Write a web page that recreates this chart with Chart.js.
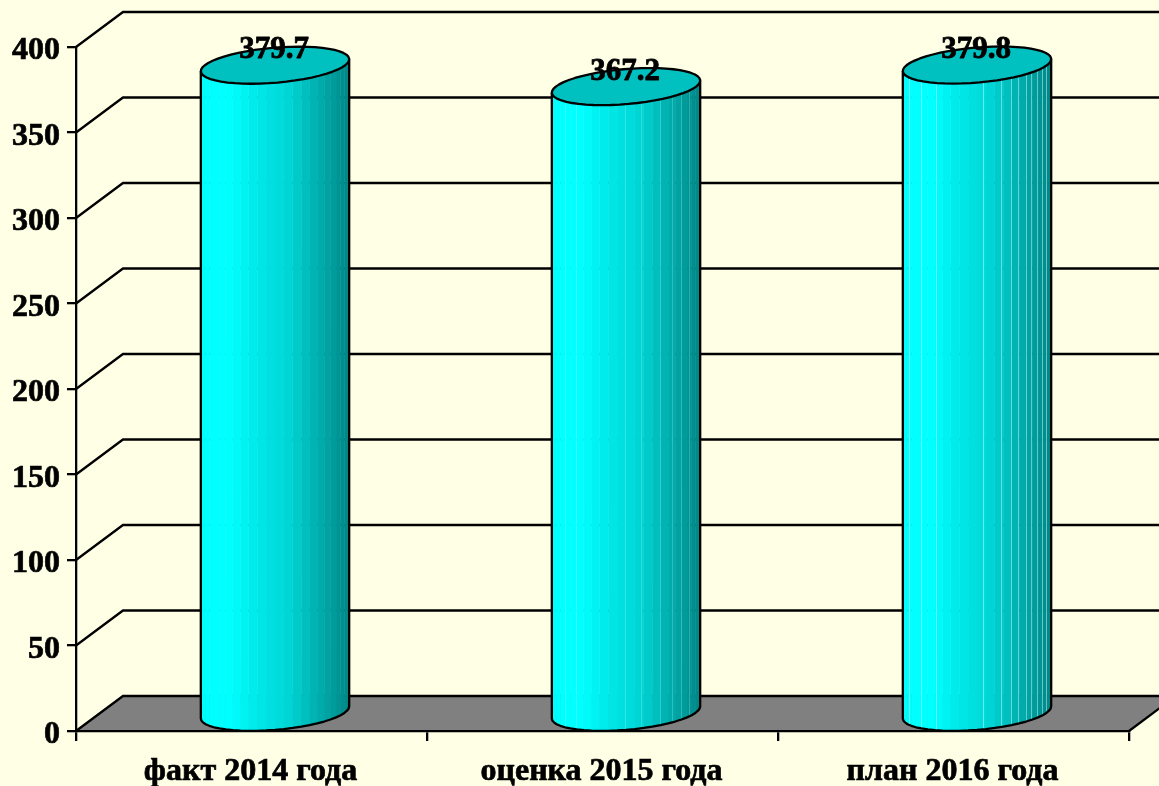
<!DOCTYPE html>
<html><head><meta charset="utf-8">
<style>html,body{margin:0;padding:0;background:#FFFFE5;overflow:hidden}canvas{display:block}</style>
<script src="https://cdn.jsdelivr.net/npm/chart.js@4"></script>
</head><body><canvas id="c" width="1159" height="786" style="width:1159px;height:786px"></canvas>
<script>
const categories = ['факт 2014 года', 'оценка 2015 года', 'план 2016 года'];
const values = [379.7, 367.2, 379.8];
const labelTexts = ['379.7', '367.2', '379.8'];

const DX = 47, DY = 35;               // depth of the 3D box
const seamAngles = [[], [146,132,91,78,63,52,42,32], [157,139,124,85,71,63,56,49,43,36,29,21]];
const seamAlpha = [0, 0.22, 0.45];
const FONT = 'bold 31px "Liberation Serif", "Times New Roman", serif';
const LINE = 2.3;

function shade(p){
  const stops = [[0,250],[0.05,255],[0.2,255],[0.36,235],[0.6,212],[0.8,172],[0.92,150],[1,132]];
  for (let i=1;i<stops.length;i++){
    if (p<=stops[i][0]){
      const a=stops[i-1],b=stops[i],k=(p-a[0])/(b[0]-a[0]);
      const v=Math.round(a[1]+(b[1]-a[1])*k);
      return `rgb(0,${v},${v})`;
    }
  }
  return 'rgb(0,132,132)';
}

const box3d = {
  id:'box3d',
  beforeDraw(chart){
    const {ctx,scales:{x,y}} = chart;
    const L=x.left,R=x.right,bottom=y.getPixelForValue(0);
    ctx.save();
    ctx.fillStyle='#808080';
    ctx.beginPath();
    ctx.moveTo(L,bottom);ctx.lineTo(R,bottom);ctx.lineTo(R+DX,bottom-DY);ctx.lineTo(L+DX,bottom-DY);ctx.closePath();
    ctx.fill();
    ctx.strokeStyle='#000';ctx.lineWidth=LINE;
    y.ticks.forEach(t=>{
      const py=y.getPixelForValue(t.value);
      ctx.beginPath();
      ctx.moveTo(L,py);ctx.lineTo(L+DX,py-DY);ctx.lineTo(R+DX+40,py-DY);
      ctx.stroke();
    });
    ctx.beginPath();
    ctx.moveTo(R,bottom);ctx.lineTo(R+DX,bottom-DY);ctx.stroke();
    ctx.restore();
  },
  afterDatasetsDraw(chart){
    const {ctx} = chart;
    const meta = chart.getDatasetMeta(0);
    meta.data.forEach((bar,i)=>{
      const cx=bar.x+DX/2, top=bar.y-DY/2+1, base=bar.base-DY/2;
      const ux=bar.width/2, vx=DX/2*1.02, vy=-DY/2*1.06;
      const halfW=Math.hypot(ux,vx);
      const pt=(yc,t)=>[cx+ux*Math.cos(t)+vx*Math.sin(t), yc+vy*Math.sin(t)];
      const t0=Math.atan2(vx,ux);
      const N=26;
      ctx.save();
      for(let k=0;k<N;k++){
        const a=t0-Math.PI*(k/N), b=t0-Math.PI*((k+1)/N);
        const a1=pt(top,a),b1=pt(top,b),a2=pt(base,a),b2=pt(base,b);
        const p=((a1[0]+b1[0])/2-(cx-halfW))/(2*halfW);
        ctx.fillStyle=shade(p);
        ctx.strokeStyle=shade(p);
        ctx.lineWidth=0.6;
        ctx.beginPath();
        ctx.moveTo(a1[0],a1[1]);ctx.lineTo(b1[0],b1[1]);ctx.lineTo(b2[0],b2[1]);ctx.lineTo(a2[0],a2[1]);ctx.closePath();
        ctx.fill();ctx.stroke();
      }
      ctx.strokeStyle=`rgba(215,255,255,${seamAlpha[i]})`;
      ctx.lineWidth=1;
      seamAngles[i].forEach(d=>{
        const sx=cx+halfW*Math.cos(d*Math.PI/180);
        const t=t0-Math.acos(Math.max(-1,Math.min(1,(sx-cx)/halfW)));
        const p1=pt(top,t),p2=pt(base,t);
        const xx=Math.round(sx)+0.5;
        ctx.beginPath();ctx.moveTo(xx,p1[1]);ctx.lineTo(xx,p2[1]);ctx.stroke();
      });
      ctx.strokeStyle='#000';ctx.lineWidth=LINE;ctx.lineJoin='round';
      ctx.beginPath();
      let s=pt(top,t0);ctx.moveTo(s[0],s[1]);
      s=pt(base,t0);ctx.lineTo(s[0],s[1]);
      for(let k=1;k<=N;k++){const q=pt(base,t0-Math.PI*k/N);ctx.lineTo(q[0],q[1]);}
      s=pt(top,t0-Math.PI);ctx.lineTo(s[0],s[1]);
      ctx.stroke();
      ctx.fillStyle='#00C0C0';
      ctx.beginPath();
      for(let k=0;k<2*N;k++){const q=pt(top,Math.PI*k/N);k?ctx.lineTo(q[0],q[1]):ctx.moveTo(q[0],q[1]);}
      ctx.closePath();ctx.fill();ctx.stroke();
      ctx.fillStyle='#000';ctx.font=FONT;ctx.textAlign='center';ctx.textBaseline='middle';
      ctx.lineWidth=0.8;ctx.strokeText(labelTexts[i],cx-1,top-15);
      ctx.fillText(labelTexts[i],cx-1,top-15);
      ctx.restore();
    });
  }
};

new Chart(document.getElementById('c'),{
  type:'bar',
  data:{labels:categories,datasets:[{data:values,backgroundColor:'rgba(0,0,0,0)',borderWidth:0,barPercentage:0.4,categoryPercentage:1}]},
  plugins:[box3d],
  options:{
    responsive:false,animation:false,
    layout:{padding:{left:0,right:30,top:47,bottom:0}},
    plugins:{legend:{display:false},tooltip:{enabled:false},title:{display:false}},
    scales:{
      x:{
        afterFit(s){s.height=55;},
        grid:{offset:true,drawOnChartArea:false,color:'#000',lineWidth:LINE,tickLength:10},
        border:{color:'#000',width:LINE},
        ticks:{color:'#000',font:{family:'"Liberation Serif"',size:32,weight:'bold'},padding:12,labelOffset:-1,maxRotation:0,textStrokeColor:'#000',textStrokeWidth:0.7}
      },
      y:{
        min:0,max:400,
        afterFit(s){s.width=76;},
        grid:{drawOnChartArea:false,color:'#000',lineWidth:LINE,tickLength:9},
        border:{color:'#000',width:LINE},
        ticks:{stepSize:50,color:'#000',font:{family:'"Liberation Serif"',size:32,weight:'bold'},padding:7,labelOffset:4,textStrokeColor:'#000',textStrokeWidth:0.7}
      }
    }
  }
});
</script></body></html>
